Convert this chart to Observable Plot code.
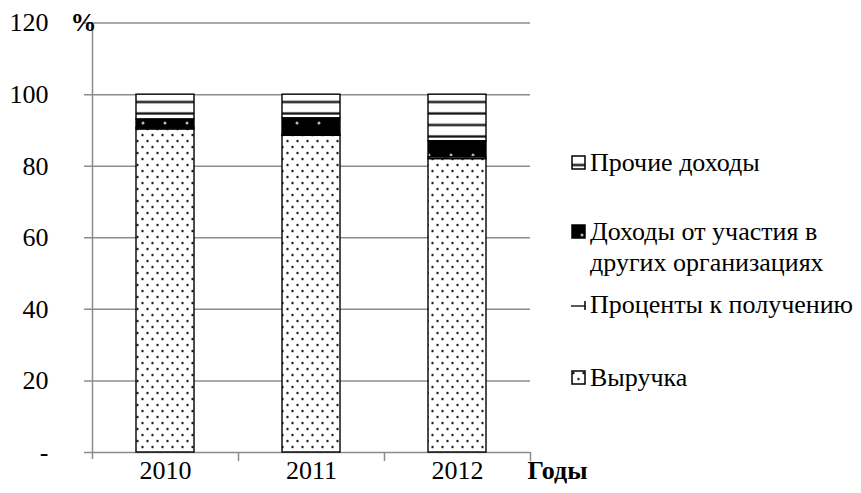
<!DOCTYPE html>
<html><head><meta charset="utf-8">
<script src="https://cdn.jsdelivr.net/npm/d3@7"></script>
<script src="https://cdn.jsdelivr.net/npm/@observablehq/plot@0.6"></script>
</head><body style="margin:0;background:#fff;font-family:'Liberation Serif'">
<svg width="0" height="0" style="position:absolute">
<defs>
  <pattern id="pDots" patternUnits="userSpaceOnUse" width="10" height="12">
    <rect width="10" height="12" fill="#fff"/>
    <circle cx="2.5" cy="3" r="1.5" fill="#999"/>
    <circle cx="7.5" cy="9" r="1.5" fill="#999"/>
    <circle cx="2.5" cy="3" r="0.9" fill="#111"/>
    <circle cx="7.5" cy="9" r="0.9" fill="#111"/>
  </pattern>
  <pattern id="pInterest" patternUnits="userSpaceOnUse" width="20" height="4">
    <rect width="20" height="4" fill="#fff"/>
    <line x1="3" x2="9" y1="2" y2="2" stroke="#555" stroke-width="1"/>
  </pattern>
  <pattern id="pBlack" patternUnits="userSpaceOnUse" width="22" height="16">
    <rect width="22" height="16" fill="#000"/>
    <circle cx="11" cy="11" r="1.5" fill="#bbb"/>
  </pattern>
  <pattern id="pStripes" patternUnits="userSpaceOnUse" width="8" height="11.5">
    <rect width="8" height="11.5" fill="#fff"/>
    <rect y="8.5" width="8" height="3" fill="#888"/>
    <rect y="9.2" width="8" height="1.6" fill="#111"/>
  </pattern>
</defs></svg>
<div id="wrap" style="position:relative;width:861px;height:493px;"><div id="legend" style="position:absolute;left:0;top:0;"></div></div>
<script>
// ---- data ----
const years = ["2010", "2011", "2012"];
const series = ["Выручка", "Проценты к получению", "Доходы от участия в других организациях", "Прочие доходы"];
const revenue = [90.3, 88.5, 82.0];
const interest = [0.4, 0.2, 0.5];
const participation = [2.4, 4.7, 4.5];
const other = [6.9, 6.6, 13.0];
const yTicks = [0, 20, 40, 60, 80, 100, 120];
const legendOrder = ["Прочие доходы", "Доходы от участия в других организациях", "Проценты к получению", "Выручка"];
const legendLabels = ["Прочие доходы", "Доходы от участия в\nдругих организациях", "Проценты к получению", "Выручка"];
const fills = ["url(#pDots)", "url(#pInterest)", "url(#pBlack)", "url(#pStripes)"];

const valuesBySeries = [revenue, interest, participation, other];
const data = years.flatMap((year, i) => series.map((s, k) => ({year, series: s, value: valuesBySeries[k][i]})));

// ---- layout ----
const FONT = "'Liberation Serif', 'Times New Roman', serif";
const FS = 26;
const W = 861, H = 493, mL = 92, mR = 331, mT = 22.6, mB = 41;
const step = (W - mL - mR) / years.length;
const pxPerUnit = (H - mT - mB) / 120;
const tickDown = 7 / pxPerUnit;
const grid = "#8c8c8c";

const chart = Plot.plot({
  width: W, height: H,
  marginLeft: mL, marginRight: mR, marginTop: mT, marginBottom: mB,
  style: {fontFamily: FONT, fontSize: FS + "px", color: "#000", background: "#fff", overflow: "visible"},
  x: {domain: years, paddingInner: 0.6, paddingOuter: 0.3, label: null},
  y: {domain: [0, 120], label: null},
  color: {domain: series, range: fills},
  marks: [
    Plot.ruleY(yTicks, {y: d => d, stroke: grid, strokeWidth: 1.5, insetLeft: -8}),
    Plot.ruleX([years[0]], {x: d => d, dx: -step / 2, y1: -tickDown, y2: 120, stroke: grid, strokeWidth: 1.5}),
    Plot.ruleX(years.slice(1), {x: d => d, dx: -step / 2, y1: -tickDown * 1.3, y2: 0, stroke: grid, strokeWidth: 1.5}),
    Plot.ruleX([years[years.length - 1]], {x: d => d, dx: step / 2, y1: -tickDown * 1.3, y2: 0, stroke: grid, strokeWidth: 1.5}),
    Plot.barY(data, {x: "year", y: "value", fill: "series", stroke: "#000", strokeWidth: 1.4}),
    Plot.axisY(yTicks, {tickSize: 0, tickPadding: 44, fontSize: FS, fontFamily: FONT, tickFormat: d => d === 0 ? "-" : d, label: null}),
    Plot.axisX({tickSize: 0, tickPadding: 8, fontSize: FS, fontFamily: FONT, label: null}),
    Plot.text(["%"], {frameAnchor: "top-left", dx: -9, dy: 0, text: d => d, fontFamily: FONT, fontWeight: "bold", fontSize: FS, textAnchor: "middle", lineAnchor: "middle"}),
    Plot.text(["Годы"], {frameAnchor: "bottom-right", dx: -3, dy: 18, text: d => d, fontFamily: FONT, fontWeight: "bold", fontSize: FS, textAnchor: "start", lineAnchor: "middle"})
  ]
});
document.getElementById("wrap").prepend(chart);
d3.select(chart).selectAll("text").style("font-family", FONT);

// ---- legend ----
const legendTops = [147, 216, 289, 362];
const leg = d3.select("#legend");
legendOrder.forEach((s, i) => {
  const item = leg.append("div")
    .style("position", "absolute").style("white-space", "nowrap")
    .style("font-family", FONT).style("font-size", FS + "px").style("line-height", "31px").style("color", "#000")
    .style("left", "571px").style("top", legendTops[i] + "px");
  const sw = item.append("svg").attr("width", 16).attr("height", 16)
    .style("position", "absolute").style("left", "0px").style("top", "8px");
  if (s === "Проценты к получению") {
    sw.append("line").attr("x1", 0).attr("x2", 14).attr("y1", 9).attr("y2", 9).attr("stroke", "#000").attr("stroke-width", 1.3);
    sw.append("line").attr("x1", 14).attr("x2", 14).attr("y1", 4).attr("y2", 13).attr("stroke", "#000").attr("stroke-width", 1.5);
  } else {
    sw.append("rect").attr("x", 1).attr("y", 1).attr("width", 13).attr("height", 13)
      .attr("fill", fills[series.indexOf(s)]).attr("stroke", "#000").attr("stroke-width", 1.5);
  }
  legendLabels[i].split("\n").forEach(line => {
    item.append("div").style("padding-left", "19px").text(line);
  });
});
</script>
</body></html>
